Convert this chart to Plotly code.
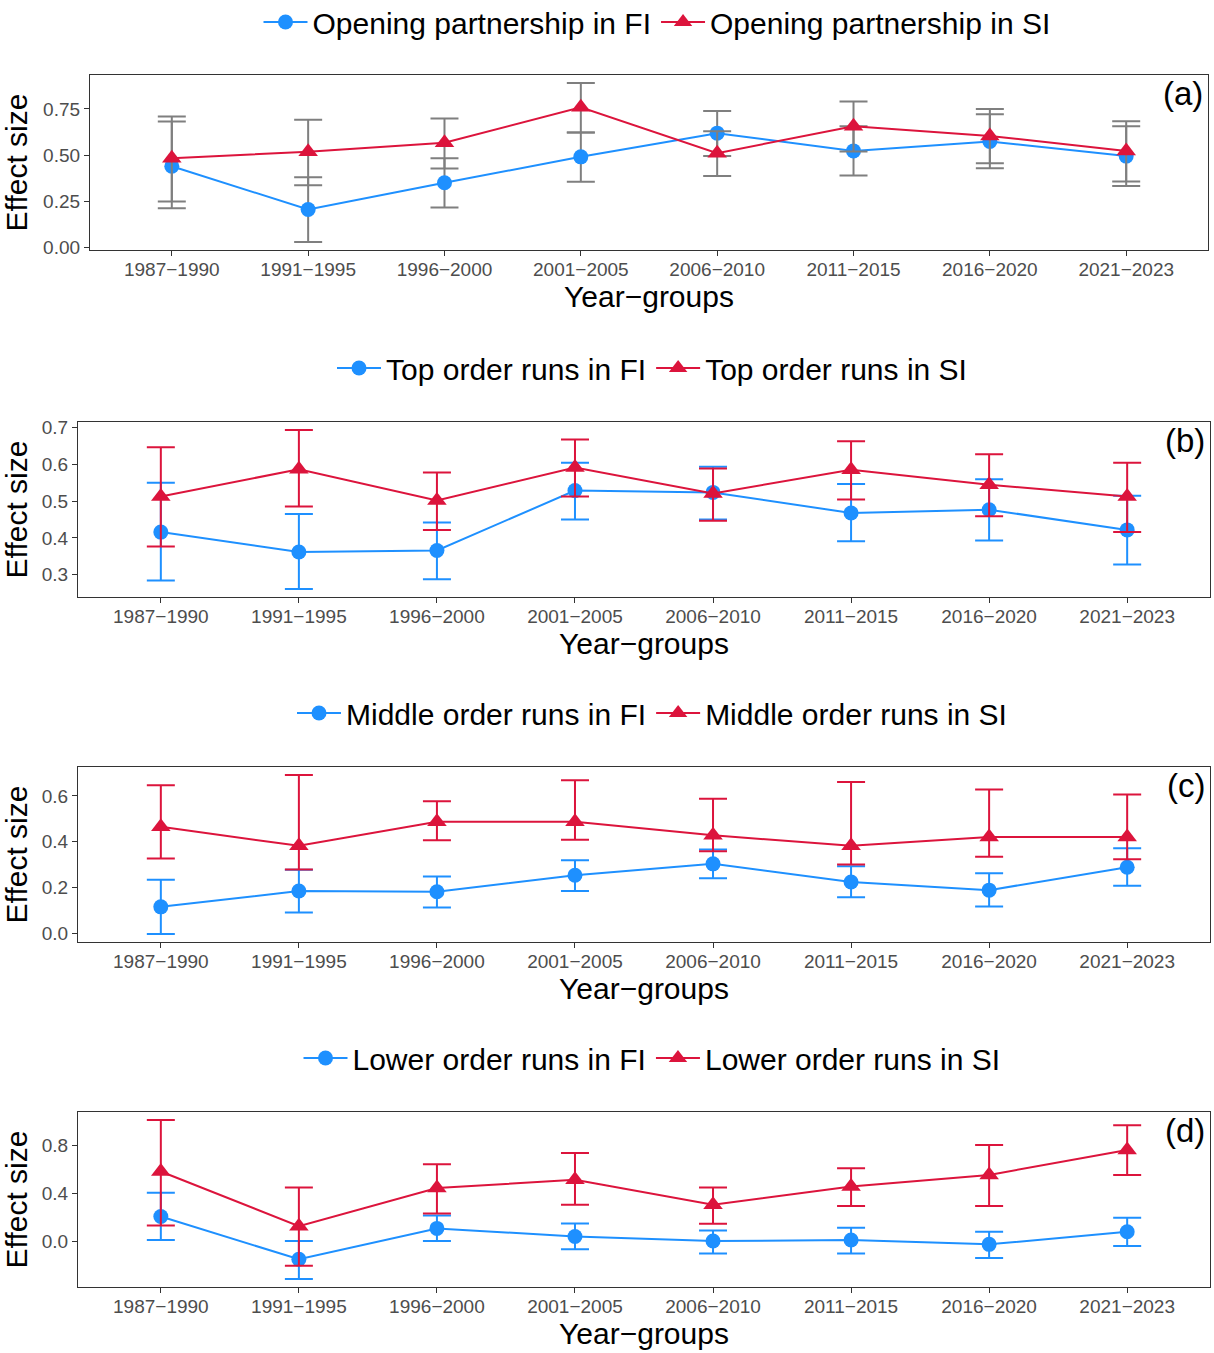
import plotly.graph_objects as go

# ---------------- data ----------------
year_groups = ["1987−1990", "1991−1995", "1996−2000", "2001−2005",
               "2006−2010", "2011−2015", "2016−2020", "2021−2023"]

# (a) Opening partnership
open_fi_est = [0.440, 0.207, 0.351, 0.491, 0.619, 0.523, 0.574, 0.495]
open_fi_lo = [0.214, 0.031, 0.218, 0.356, 0.495, 0.390, 0.430, 0.333]
open_fi_hi = [0.682, 0.381, 0.484, 0.622, 0.739, 0.656, 0.721, 0.656]
open_si_est = [0.484, 0.518, 0.567, 0.759, 0.511, 0.656, 0.604, 0.523]
open_si_lo = [0.250, 0.338, 0.428, 0.622, 0.387, 0.520, 0.457, 0.358]
open_si_hi = [0.709, 0.692, 0.698, 0.890, 0.629, 0.790, 0.750, 0.683]

# (b) Top order runs
top_fi_est = [0.416, 0.362, 0.366, 0.529, 0.524, 0.468, 0.477, 0.422]
top_fi_lo = [0.284, 0.261, 0.288, 0.450, 0.450, 0.391, 0.393, 0.328]
top_fi_hi = [0.550, 0.465, 0.442, 0.605, 0.594, 0.547, 0.560, 0.515]
top_si_est = [0.513, 0.587, 0.502, 0.592, 0.521, 0.586, 0.545, 0.513]
top_si_lo = [0.377, 0.486, 0.422, 0.513, 0.447, 0.505, 0.459, 0.416]
top_si_hi = [0.647, 0.694, 0.578, 0.668, 0.589, 0.663, 0.628, 0.605]

# (c) Middle order runs
mid_fi_est = [0.115, 0.184, 0.181, 0.253, 0.303, 0.224, 0.188, 0.288]
mid_fi_lo = [-0.004, 0.090, 0.112, 0.184, 0.240, 0.157, 0.117, 0.207]
mid_fi_hi = [0.233, 0.277, 0.248, 0.319, 0.366, 0.293, 0.262, 0.371]
mid_si_est = [0.465, 0.382, 0.487, 0.487, 0.428, 0.382, 0.421, 0.421]
mid_si_lo = [0.326, 0.278, 0.406, 0.409, 0.358, 0.300, 0.334, 0.323]
mid_si_hi = [0.647, 0.692, 0.577, 0.669, 0.588, 0.661, 0.628, 0.606]

# (d) Lower order runs
low_fi_est = [0.207, -0.149, 0.108, 0.041, 0.003, 0.011, -0.025, 0.080]
low_fi_lo = [0.011, -0.314, 0.003, -0.066, -0.102, -0.102, -0.138, -0.039]
low_fi_hi = [0.406, 0.003, 0.215, 0.149, 0.091, 0.113, 0.080, 0.196]
low_si_est = [0.582, 0.127, 0.444, 0.513, 0.306, 0.458, 0.554, 0.761]
low_si_lo = [0.132, -0.204, 0.232, 0.306, 0.146, 0.295, 0.295, 0.554]
low_si_hi = [1.012, 0.450, 0.643, 0.737, 0.450, 0.610, 0.803, 0.968]

panel_labels = ["(a)", "(b)", "(c)", "(d)"]
legend_names = [
    ("Opening partnership in FI", "Opening partnership in SI"),
    ("Top order runs in FI", "Top order runs in SI"),
    ("Middle order runs in FI", "Middle order runs in SI"),
    ("Lower order runs in FI", "Lower order runs in SI"),
]
y_ticks = [
    [0.0, 0.25, 0.5, 0.75],
    [0.3, 0.4, 0.5, 0.6, 0.7],
    [0.0, 0.2, 0.4, 0.6],
    [0.0, 0.4, 0.8],
]
y_tickformats = [".2f", ".1f", ".1f", ".1f"]

panels = [
    (open_fi_est, open_fi_lo, open_fi_hi, open_si_est, open_si_lo, open_si_hi),
    (top_fi_est, top_fi_lo, top_fi_hi, top_si_est, top_si_lo, top_si_hi),
    (mid_fi_est, mid_fi_lo, mid_fi_hi, mid_si_est, mid_si_lo, mid_si_hi),
    (low_fi_est, low_fi_lo, low_fi_hi, low_si_est, low_si_lo, low_si_hi),
]

# ---------------- layout geometry (pixels) ----------------
W, H = 1214, 1353
BLUE = "#1E90FF"
RED = "#DC143C"
GREY = "#7F7F7F"
FONT = "Liberation Sans, Arial, Helvetica, sans-serif"

plot_boxes = [  # x0, x1, ytop, ybottom
    (90, 1208, 75, 250),
    (78, 1210, 422, 597),
    (78, 1210, 767, 942),
    (78, 1210, 1112, 1287),
]
legend_y = [22, 368, 713, 1058]
legend_xc = [657, 652, 652, 652]

fig = go.Figure()
layout = dict(
    width=W, height=H,
    margin=dict(l=0, r=0, t=0, b=0, autoexpand=False),
    paper_bgcolor="white", plot_bgcolor="white",
    font=dict(family=FONT, color="black"),
    annotations=[],
)

for i, (fi_est, fi_lo, fi_hi, si_est, si_lo, si_hi) in enumerate(panels):
    n = "" if i == 0 else str(i + 1)
    xa, ya = "x" + n, "y" + n
    leg = "legend" + n
    err_col_fi = GREY if i == 0 else BLUE
    err_col_si = GREY if i == 0 else RED

    for est, lo, hi, col, ecol, sym, msize, name in [
        (fi_est, fi_lo, fi_hi, BLUE, err_col_fi, "circle", 15, legend_names[i][0]),
        (si_est, si_lo, si_hi, RED, err_col_si, "triangle-up", 17, legend_names[i][1]),
    ]:
        fig.add_trace(go.Scatter(
            x=year_groups, y=est, xaxis=xa, yaxis=ya, legend=leg,
            mode="lines+markers", name=name,
            line=dict(color=col, width=2),
            marker=dict(color=col, symbol=sym, size=msize),
            error_y=dict(type="data", symmetric=False,
                         array=[h - e for h, e in zip(hi, est)],
                         arrayminus=[e - l for e, l in zip(est, lo)],
                         color=ecol, thickness=2, width=14),
        ))

    x0, x1, yt, yb = plot_boxes[i]
    all_vals = fi_lo + fi_hi + si_lo + si_hi
    vmin, vmax = min(all_vals), max(all_vals)
    pad = 0.05 * (vmax - vmin)

    layout["xaxis" + n] = dict(
        domain=[x0 / W, x1 / W], anchor=ya, automargin=False,
        type="category", range=[-0.6, len(year_groups) - 0.4],
        showline=True, mirror=True, linecolor="#333333", linewidth=1.3,
        ticks="outside", ticklen=5, tickwidth=1.2, tickcolor="#333333",
        ticklabelstandoff=-3,
        tickfont=dict(size=19, color="#4D4D4D", family=FONT),
        showgrid=False, zeroline=False,
        title=dict(text="Year−groups", font=dict(size=30, family=FONT, color="black"),
                   standoff=4),
    )
    layout["yaxis" + n] = dict(
        domain=[1 - yb / H, 1 - yt / H], anchor=xa, automargin=False,
        range=[vmin - pad, vmax + pad],
        tickvals=y_ticks[i], tickformat=y_tickformats[i],
        showline=True, mirror=True, linecolor="#333333", linewidth=1.3,
        ticks="outside", ticklen=5, tickwidth=1.2, tickcolor="#333333",
        tickfont=dict(size=19, color="#4D4D4D", family=FONT),
        showgrid=False, zeroline=False,
        title=dict(text="Effect size", font=dict(size=30, family=FONT, color="black"),
                   standoff=6),
    )
    layout[leg] = dict(
        orientation="h", x=legend_xc[i] / W, xanchor="center",
        y=1 - legend_y[i] / H, yanchor="middle",
        font=dict(size=30, family=FONT, color="black"),
        bgcolor="rgba(0,0,0,0)", itemwidth=44,
        tracegroupgap=0,
    )
    layout["annotations"].append(dict(
        text=panel_labels[i], xref="paper", yref="paper",
        x=(x1 - 3) / W, y=1 - (yt - 2) / H, xanchor="right", yanchor="top",
        showarrow=False, font=dict(size=33, family=FONT, color="black"),
    ))

fig.update_layout(**layout)
fig.write_html("out.html",
               config={"displayModeBar": False},
               post_script="document.body.style.margin='0';document.body.style.overflow='hidden';")
